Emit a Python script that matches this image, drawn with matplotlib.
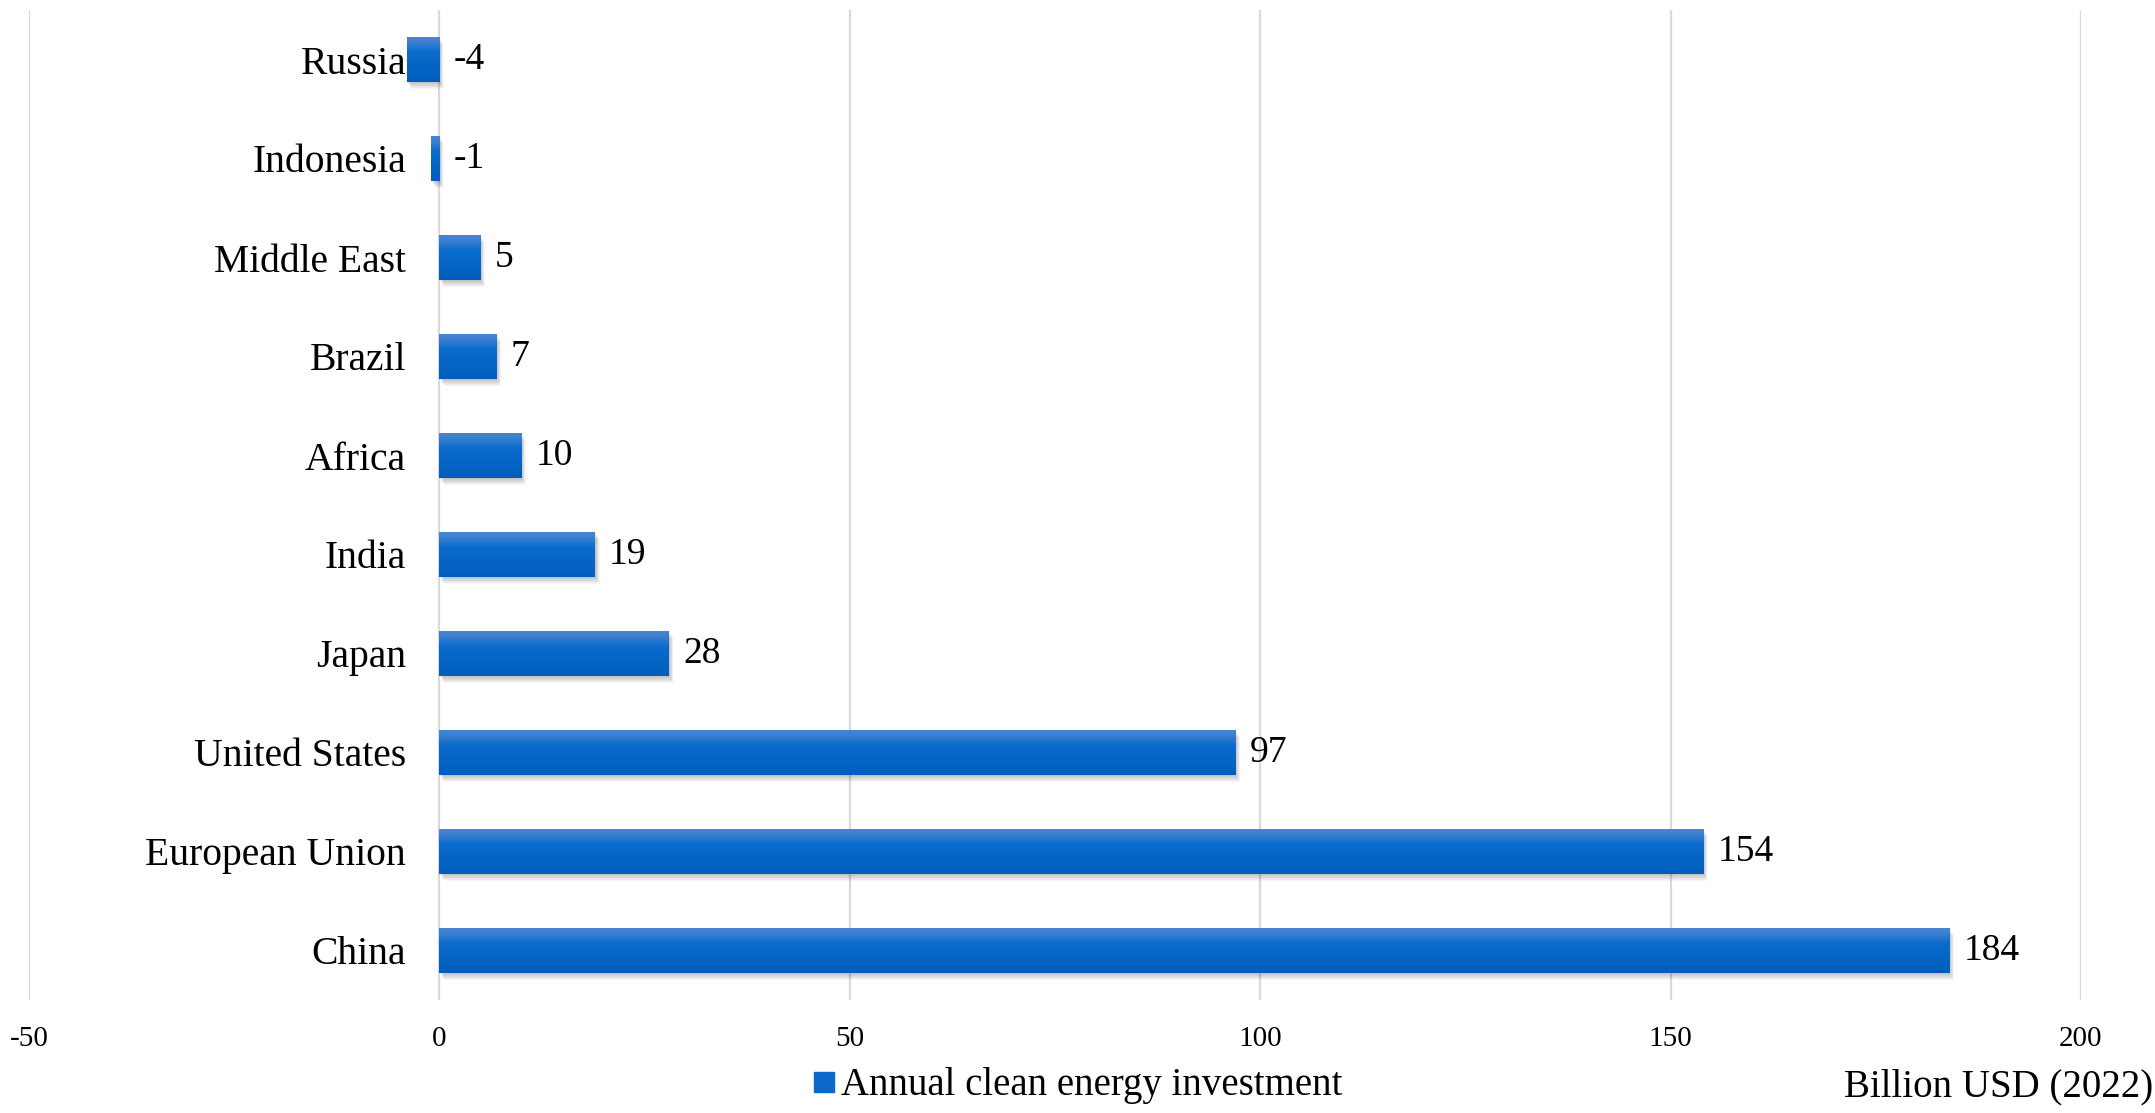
import numpy as np
import matplotlib
matplotlib.use("Agg")
import matplotlib.pyplot as plt
from matplotlib.patches import Rectangle
from matplotlib.transforms import ScaledTranslation
from matplotlib.colors import LinearSegmentedColormap
from matplotlib.lines import Line2D

plt.rcParams['font.family'] = ['Liberation Serif', 'DejaVu Serif']

# Data (top to bottom as displayed)
categories = ["Russia", "Indonesia", "Middle East", "Brazil", "Africa", "India",
              "Japan", "United States", "European Union", "China"]
values = [-4, -1, 5, 7, 10, 19, 28, 97, 154, 184]
xticks = [-50, 0, 50, 100, 150, 200]
series_name = "Annual clean energy investment"
unit_label = "Billion USD (2022)"

W, H = 2155, 1113
fig = plt.figure(figsize=(W / 100, H / 100), dpi=100)
ax = fig.add_axes([29 / W, 1 - 1000 / H, (2081 - 29) / W, 990 / H])
ax.spines['left'].set_position(('data', 0))

n = len(categories)
ypos = np.arange(n)[::-1]

mid_blue = "#0a68c9"
bars = ax.barh(ypos, values, height=0.46, color=mid_blue, zorder=3)

# gradient fill
cmap = LinearSegmentedColormap.from_list(
    "barg", [(0.0, "#4a86d2"), (0.12, "#3f80d0"), (0.35, "#0a6ccd"), (1.0, "#005dbd")])
grad = np.linspace(0, 1, 64).reshape(-1, 1)

for b in bars:
    x0, w = b.get_x(), b.get_width()
    y0, h = b.get_y(), b.get_height()
    # soft shadow
    for i in range(1, 8):
        tr = ax.transData + ScaledTranslation(0.6 * i / 100, -1.0 * i / 100, fig.dpi_scale_trans)
        ax.add_patch(Rectangle((x0, y0), w, h, transform=tr, facecolor="black",
                               edgecolor="none", alpha=0.035, zorder=2))
    im = ax.imshow(grad, extent=(min(x0, x0 + w), max(x0, x0 + w), y0, y0 + h),
                   origin="upper", aspect="auto", cmap=cmap, zorder=4,
                   interpolation="bilinear")
    im.set_clip_path(b)

ax.set_xlim(-50, 200)
ax.set_ylim(-0.5, n - 0.5)
ax.set_xticks(xticks)
ax.set_xticklabels([str(t) for t in xticks])
ax.set_yticks(ypos)
ax.set_yticklabels(categories)
for s in ax.spines.values():
    s.set_visible(False)
ax.tick_params(axis='y', length=0, pad=24, labelsize=28.5)
ax.tick_params(axis='x', length=0, pad=19, labelsize=21)
ax.grid(axis='x', color="#d9d9d9", linewidth=1.6, zorder=0)
ax.set_axisbelow(True)

for yv, v in zip(ypos, values):
    ax.annotate(str(v), xy=(max(v, 0), yv), xytext=(10, 0), textcoords="offset points",
                va="center", ha="left", fontsize=27, color="black", zorder=5)

handle = Line2D([], [], marker="s", color=mid_blue, linestyle="none", markersize=14)
fig.legend([handle], [series_name], loc="center", bbox_to_anchor=(0.5, 1 - 1086 / H),
           frameon=False, fontsize=28, handletextpad=0.15, handlelength=0.6,
           borderaxespad=0, borderpad=0)
fig.text(2153 / W, 1 - 1087 / H, unit_label, ha="right", va="center", fontsize=28)

fig.savefig("out.png", dpi=100, facecolor="white")
